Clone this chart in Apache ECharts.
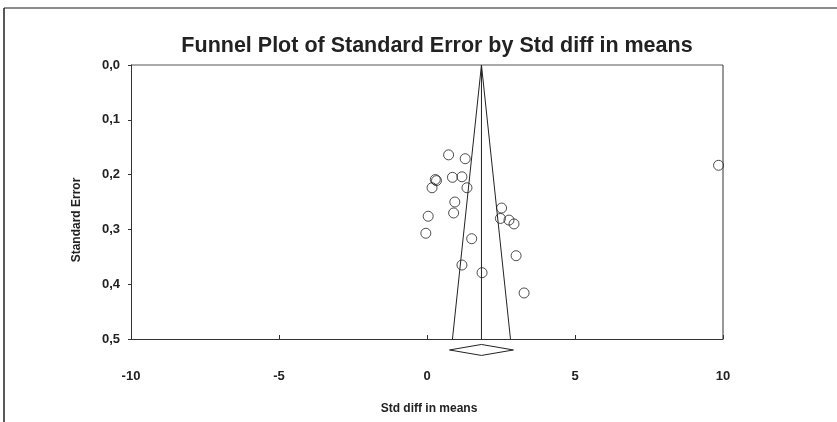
<!DOCTYPE html>
<html>
<head>
<meta charset="utf-8">
<script src="https://cdn.jsdelivr.net/npm/echarts@6/dist/echarts.min.js"></script>
<style>
html,body{margin:0;padding:0;background:#fff;}
#c{width:837px;height:422px;}
</style>
</head>
<body>
<div id="c"></div>
<script>
// Study points: [Std diff in means, Standard Error]
const studies = [
  [0.73, 0.164], [1.29, 0.171], [0.32, 0.211], [0.28, 0.209],
  [0.86, 0.205], [1.18, 0.204], [0.17, 0.224], [1.35, 0.224],
  [0.94, 0.250], [2.52, 0.261], [0.04, 0.276], [0.90, 0.270],
  [2.48, 0.280], [2.77, 0.283], [2.94, 0.290], [-0.04, 0.307],
  [1.51, 0.317], [3.01, 0.348], [1.18, 0.365], [1.86, 0.379],
  [3.28, 0.416], [9.85, 0.183]
];
// Funnel lines (pooled estimate and 95% limits)
const funnelCenter = [[1.84, 0.0], [1.84, 0.5]];
const funnelLeft = [[1.84, 0.0], [0.86, 0.5]];
const funnelRight = [[1.84, 0.0], [2.82, 0.5]];
// Summary diamond (below the axis)
const diamond = [[0.76, 0.520], [1.84, 0.510], [2.92, 0.520], [1.84, 0.530], [0.76, 0.520]];
const xTicks = [-10, -5, 0, 5, 10];
const yTicks = ['0,0', '0,1', '0,2', '0,3', '0,4', '0,5'];

const FONT = "'Liberation Sans', Arial, sans-serif";
const chart = echarts.init(document.getElementById('c'));
const lineStyle = {color: '#222', width: 1};
chart.setOption({
  animation: false,
  title: {
    text: 'Funnel Plot of Standard Error by Std diff in means',
    left: 432, top: 30, textAlign: 'center',
    textStyle: {fontFamily: FONT, fontWeight: 'bold', fontSize: 21.5, color: '#222'}
  },
  grid: {left: 131, right: 114, top: 65, bottom: 83, show: false},
  xAxis: {
    type: 'value', min: -10, max: 10, interval: 5, position: 'bottom',
    axisLine: {show: true, onZero: false, lineStyle: {color: '#333', width: 1}},
    axisTick: {show: true, inside: true, length: 4, lineStyle: {color: '#333'}},
    splitLine: {show: false},
    axisLabel: {
      margin: 31, fontFamily: FONT, fontWeight: 'bold', fontSize: 13, color: '#222',
      formatter: v => xTicks.indexOf(v) >= 0 ? String(v) : ''
    }
  },
  yAxis: {
    type: 'value', min: 0, max: 0.5, interval: 0.1, inverse: true, position: 'left',
    axisLine: {show: true, onZero: false, lineStyle: {color: '#333', width: 1}},
    axisTick: {show: true, length: 3, lineStyle: {color: '#333'}},
    splitLine: {show: false},
    axisLabel: {
      margin: 11, fontFamily: FONT, fontWeight: 'bold', fontSize: 13, color: '#222',
      formatter: (v) => yTicks[Math.round(v * 10)]
    }
  },
  graphic: [
    {type: 'line', shape: {x1: 4, y1: 8, x2: 837, y2: 8}, style: {stroke: '#666', lineWidth: 1.5}},
    {type: 'line', shape: {x1: 4, y1: 8, x2: 4, y2: 422}, style: {stroke: '#222', lineWidth: 1.5}},
    {type: 'line', shape: {x1: 131, y1: 65, x2: 723, y2: 65}, style: {stroke: '#555', lineWidth: 1}},
    {type: 'line', shape: {x1: 723, y1: 65, x2: 723, y2: 339}, style: {stroke: '#333', lineWidth: 1}},
    {type: 'text', x: 77, y: 220, rotation: Math.PI / 2,
      style: {text: 'Standard Error', fontFamily: FONT, fontWeight: 'bold', fontSize: 12, fill: '#222',
        textAlign: 'center', textVerticalAlign: 'middle'}},
    {type: 'text', x: 429, y: 409,
      style: {text: 'Std diff in means', fontFamily: FONT, fontWeight: 'bold', fontSize: 12, fill: '#222',
        textAlign: 'center', textVerticalAlign: 'middle'}}
  ],
  series: [
    {type: 'line', data: funnelCenter, symbol: 'none', lineStyle: lineStyle, silent: true},
    {type: 'line', data: funnelLeft, symbol: 'none', lineStyle: lineStyle, silent: true},
    {type: 'line', data: funnelRight, symbol: 'none', lineStyle: lineStyle, silent: true},
    {type: 'line', data: diamond, symbol: 'none', lineStyle: lineStyle, clip: false, silent: true},
    {type: 'scatter', data: studies, symbol: 'circle', symbolSize: 10,
      itemStyle: {color: 'rgba(255,255,255,0)', borderColor: '#222', borderWidth: 1}}
  ]
});
</script>
</body>
</html>
